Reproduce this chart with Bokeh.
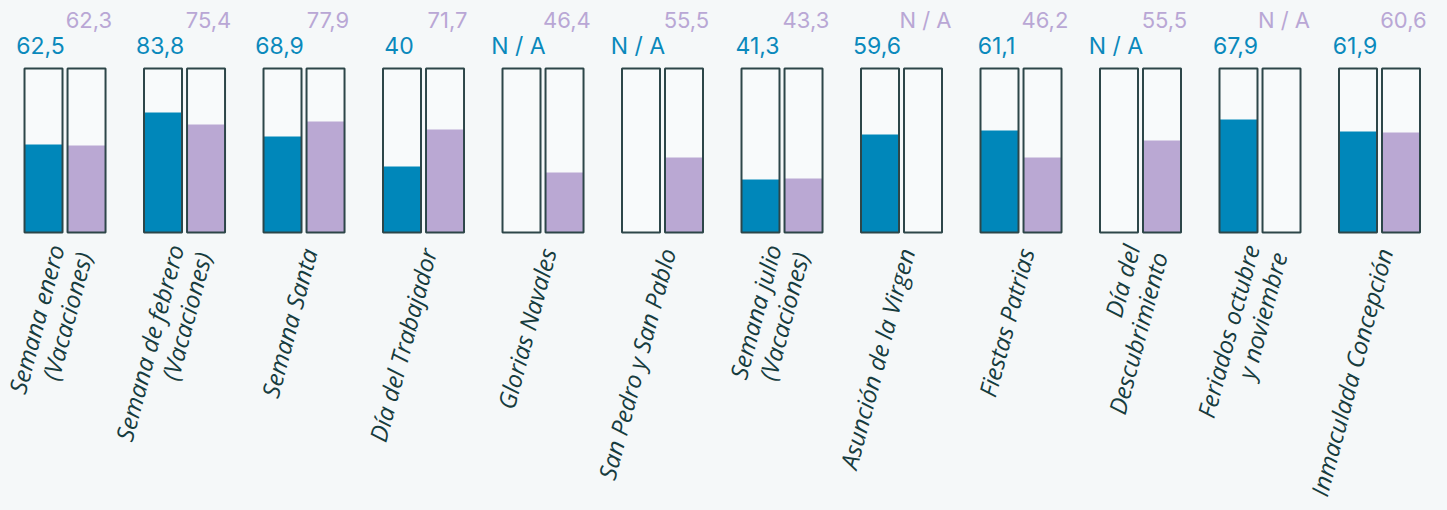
from bokeh.plotting import figure
from bokeh.models import Range1d, ColumnDataSource
from bokeh.core.properties import value
from bokeh.embed import file_html
from bokeh.resources import INLINE

# ---- data ----
categorias = [
    "Semana enero\n(Vacaciones)",
    "Semana de febrero\n(Vacaciones)",
    "Semana Santa",
    "Día del Trabajador",
    "Glorias Navales",
    "San Pedro y San Pablo",
    "Semana julio\n(Vacaciones)",
    "Asunción de la Virgen",
    "Fiestas Patrias",
    "Día del\nDescubrimiento",
    "Feriados octubre\ny noviembre",
    "Inmaculada Concepción",
]
NA = float("nan")
# printed labels
azul_etiqueta = ["62,5", "83,8", "68,9", "40", "N / A", "N / A", "41,3", "59,6", "61,1", "N / A", "67,9", "61,9"]
morado_etiqueta = ["62,3", "75,4", "77,9", "71,7", "46,4", "55,5", "43,3", "N / A", "46,2", "55,5", "N / A", "60,6"]
# fill heights as drawn (0-100 box)
azul_relleno = [53.7, 73.2, 58.5, 40.2, NA, NA, 32.3, 59.8, 62.2, NA, 68.9, 61.6]
morado_relleno = [53.0, 65.9, 67.7, 62.8, 36.6, 45.7, 32.9, NA, 45.7, 56.1, NA, 61.0]

BG = "#f5f8f9"
AZUL = "#0087ba"
MORADO = "#baa8d3"
AZUL_TXT = "#0a89bc"
MORADO_TXT = "#b9a7d5"
BORDE = "#2d4649"
TXT = "#173c3e"

n = len(categorias)
idx = list(range(n))
off = 0.18
w = 0.318

src = ColumnDataSource(dict(
    xa=[i - off for i in idx],
    xm=[i + off for i in idx],
    xc=[i + 0.04 for i in idx],
    xla=[i - off - 0.025 for i in idx],
    xlm=[i + off + 0.02 for i in idx],
    ya=azul_relleno,
    ym=morado_relleno,
    la=azul_etiqueta,
    lm=morado_etiqueta,
    cat=categorias,
    full=[100] * n,
    ycat=[-10] * n,
    yla=[114] * n,
    ylm=[129.3] * n,
))

p = figure(width=1447, height=510, output_backend="svg", toolbar_location=None,
           x_range=Range1d(-0.540, 11.569), y_range=Range1d(-169.5, 141.46),
           x_axis_type=None, y_axis_type=None, min_border=0,
           background_fill_color=BG, border_fill_color=BG, outline_line_color=None)
p.grid.visible = False

# box backgrounds
p.vbar(x="xa", bottom=0, top="full", width=w, source=src, fill_color="#f8fafb", line_color=None)
p.vbar(x="xm", bottom=0, top="full", width=w, source=src, fill_color="#f8fafb", line_color=None)
# fills
p.vbar(x="xa", bottom=0, top="ya", width=w, source=src, fill_color=AZUL, line_color=None)
p.vbar(x="xm", bottom=0, top="ym", width=w, source=src, fill_color=MORADO, line_color=None)
# outlines
p.vbar(x="xa", bottom=0, top="full", width=w, source=src, fill_color=None, line_color=BORDE, line_width=2)
p.vbar(x="xm", bottom=0, top="full", width=w, source=src, fill_color=None, line_color=BORDE, line_width=2)

# value labels
p.text(x="xla", y="yla", text="la", source=src, text_align="center", text_baseline="middle",
       text_font=value("Inter"), text_font_size="23px", text_color=AZUL_TXT)
p.text(x="xlm", y="ylm", text="lm", source=src, text_align="center", text_baseline="middle",
       text_font=value("Inter"), text_font_size="22px", text_color=MORADO_TXT)

# category labels
p.text(x="xc", y="ycat", text="cat", source=src, angle=75, angle_units="deg",
       text_align="right", text_baseline="middle", text_line_height=0.87,
       text_font=value("Open Sans"), text_font_style="italic", text_font_size="24px",
       text_color=TXT)

html = file_html(p, INLINE)
html = html.replace("<head>", "<head><style>html,body{background:%s;margin:0;}</style>" % BG, 1)
open("out.html", "w").write(html)
